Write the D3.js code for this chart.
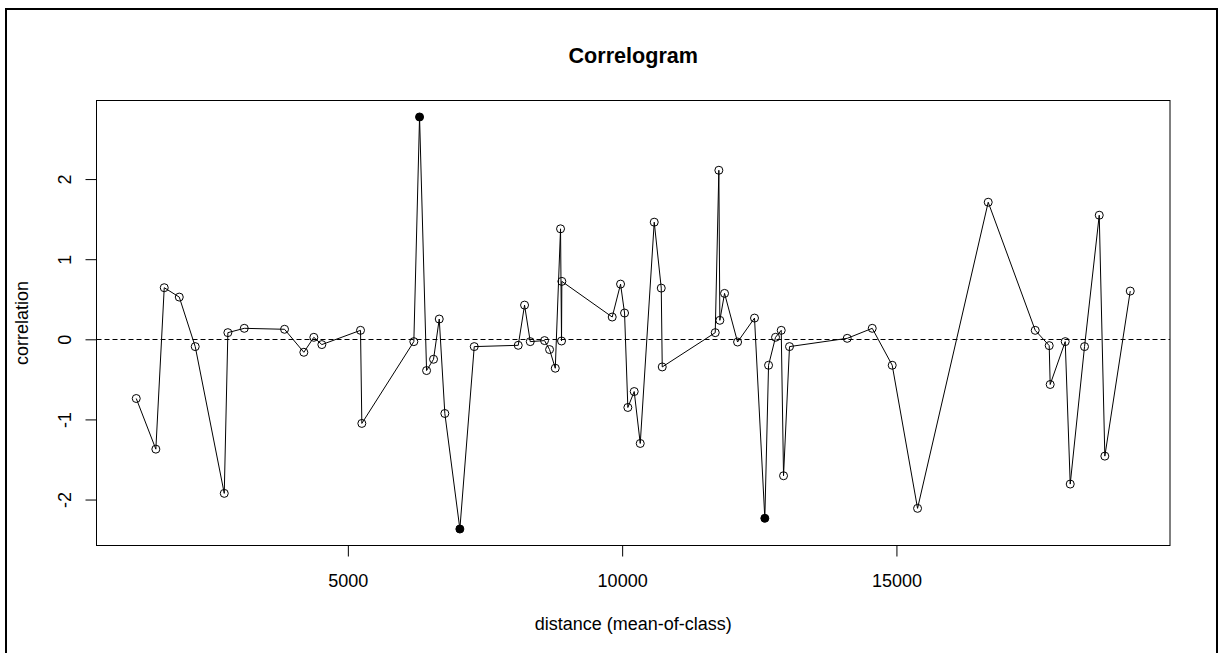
<!DOCTYPE html>
<html>
<head>
<meta charset="utf-8">
<script src="https://cdn.jsdelivr.net/npm/d3@7"></script>
<style>
  html, body { margin: 0; padding: 0; background: #fff; }
  svg { display: block; font-family: "Liberation Sans", Arial, sans-serif; }
</style>
</head>
<body>
<svg id="chart" width="1222" height="653"></svg>
<script>
// ---- data ----
const distances = [
  1143, 1500, 1653, 1927, 2218, 2747, 2813, 3112, 3846, 4198,
  4380, 4526, 5231, 5255, 6203, 6307, 6435, 6562, 6666, 6768,
  7042, 7304, 8106, 8221, 8325, 8585, 8677, 8781, 8877, 8895,
  8901, 9819, 9971, 10044, 10104, 10220, 10330, 10585, 10713, 10731,
  11697, 11763, 11781, 11867, 12104, 12413, 12601, 12669, 12796, 12900,
  12942, 13051, 14103, 14559, 14923, 15385, 16673, 17530, 17785, 17803,
  18077, 18168, 18429, 18697, 18799, 19262
];
const correlations = [
  -0.739, -1.371, 0.644, 0.527, -0.091, -1.923, 0.083, 0.137, 0.125, -0.162,
  0.025, -0.066, 0.112, -1.050, -0.029, 2.775, -0.390, -0.249, 0.253, -0.926,
  -2.368, -0.091, -0.075, 0.427, -0.029, -0.016, -0.128, -0.361, 1.379, -0.021,
  0.723, 0.278, 0.689, 0.328, -0.851, -0.652, -1.300, 1.462, 0.639, -0.345,
  0.083, 2.110, 0.237, 0.573, -0.034, 0.265, -2.234, -0.324, 0.025, 0.112,
  -1.703, -0.091, 0.012, 0.137, -0.324, -2.110, 1.711, 0.112, -0.079, -0.564,
  -0.029, -1.807, -0.091, 1.549, -1.458, 0.602
];
// indices of significant classes (drawn as filled points)
const significantIdx = [15, 20, 46];
const xTicks = [5000, 10000, 15000];
const yTicks = [-2, -1, 0, 1, 2];
const titleText = "Correlogram";
const xLabel = "distance (mean-of-class)";
const yLabel = "correlation";

// ---- layout ----
const svg = d3.select("#chart");
const box = { left: 96.5, right: 1170, top: 100.5, bottom: 545.5 };
const baseFont = 18;

function padded(arr) {
  const [lo, hi] = d3.extent(arr);
  const r = hi - lo;
  return [lo - 0.04 * r, hi + 0.04 * r];
}

const x = d3.scaleLinear().domain(padded(distances)).range([box.left, box.right]);
const y = d3.scaleLinear().domain(padded(correlations)).range([box.bottom, box.top]);

const data = distances.map((d, i) => ({
  x: d, y: correlations[i], sig: significantIdx.includes(i)
}));

// outer frame
svg.append("path")
  .attr("d", "M6,653 V9 H1217 V653")
  .attr("fill", "none")
  .attr("stroke", "#000")
  .attr("stroke-width", 2);

// horizontal zero reference line
svg.append("line")
  .attr("x1", box.left).attr("x2", box.right)
  .attr("y1", Math.round(y(0)) + 0.5).attr("y2", Math.round(y(0)) + 0.5)
  .attr("stroke", "#000")
  .attr("stroke-width", 1)
  .attr("stroke-dasharray", "5,3");

// line
const line = d3.line().x(d => x(d.x)).y(d => y(d.y));
svg.append("path")
  .datum(data)
  .attr("d", line)
  .attr("fill", "none")
  .attr("stroke", "#000")
  .attr("stroke-width", 1);

// points
svg.append("g").selectAll("circle")
  .data(data)
  .join("circle")
  .attr("cx", d => x(d.x))
  .attr("cy", d => y(d.y))
  .attr("r", 4)
  .attr("fill", d => d.sig ? "#000" : "none")
  .attr("stroke", "#000")
  .attr("stroke-width", 1);

// plot box
svg.append("rect")
  .attr("x", box.left).attr("y", box.top)
  .attr("width", box.right - box.left).attr("height", box.bottom - box.top)
  .attr("fill", "none")
  .attr("stroke", "#000")
  .attr("stroke-width", 1);

const plainFormat = d => String(d);

// x axis
const gx = svg.append("g")
  .attr("transform", `translate(0,${box.bottom})`)
  .call(d3.axisBottom(x).tickValues(xTicks).tickFormat(plainFormat).tickSize(11).tickPadding(17.5));
gx.select(".domain").remove();
gx.selectAll("text")
  .attr("font-size", baseFont)
  .attr("font-family", "Liberation Sans, Arial, sans-serif")
  .attr("fill", "#000");
gx.selectAll("line").attr("stroke", "#000");

// y axis
const gy = svg.append("g")
  .attr("transform", `translate(${box.left},0)`)
  .call(d3.axisLeft(y).tickValues(yTicks).tickFormat(plainFormat).tickSize(11));
gy.select(".domain").remove();
gy.selectAll("line").attr("stroke", "#000");
gy.selectAll("text")
  .attr("transform", "rotate(-90)")
  .attr("x", 0)
  .attr("y", -26)
  .attr("dy", 0)
  .attr("text-anchor", "middle")
  .attr("font-size", baseFont)
  .attr("font-family", "Liberation Sans, Arial, sans-serif")
  .attr("fill", "#000");

// title
svg.append("text")
  .attr("x", (box.left + box.right) / 2)
  .attr("y", 63)
  .attr("text-anchor", "middle")
  .attr("font-size", baseFont * 1.2)
  .attr("font-weight", "bold")
  .attr("fill", "#000")
  .text(titleText);

// axis titles
svg.append("text")
  .attr("x", (box.left + box.right) / 2)
  .attr("y", 630)
  .attr("text-anchor", "middle")
  .attr("font-size", baseFont)
  .attr("fill", "#000")
  .text(xLabel);

svg.append("text")
  .attr("transform", `translate(28,${(box.top + box.bottom) / 2}) rotate(-90)`)
  .attr("text-anchor", "middle")
  .attr("font-size", baseFont)
  .attr("fill", "#000")
  .text(yLabel);
</script>
</body>
</html>
